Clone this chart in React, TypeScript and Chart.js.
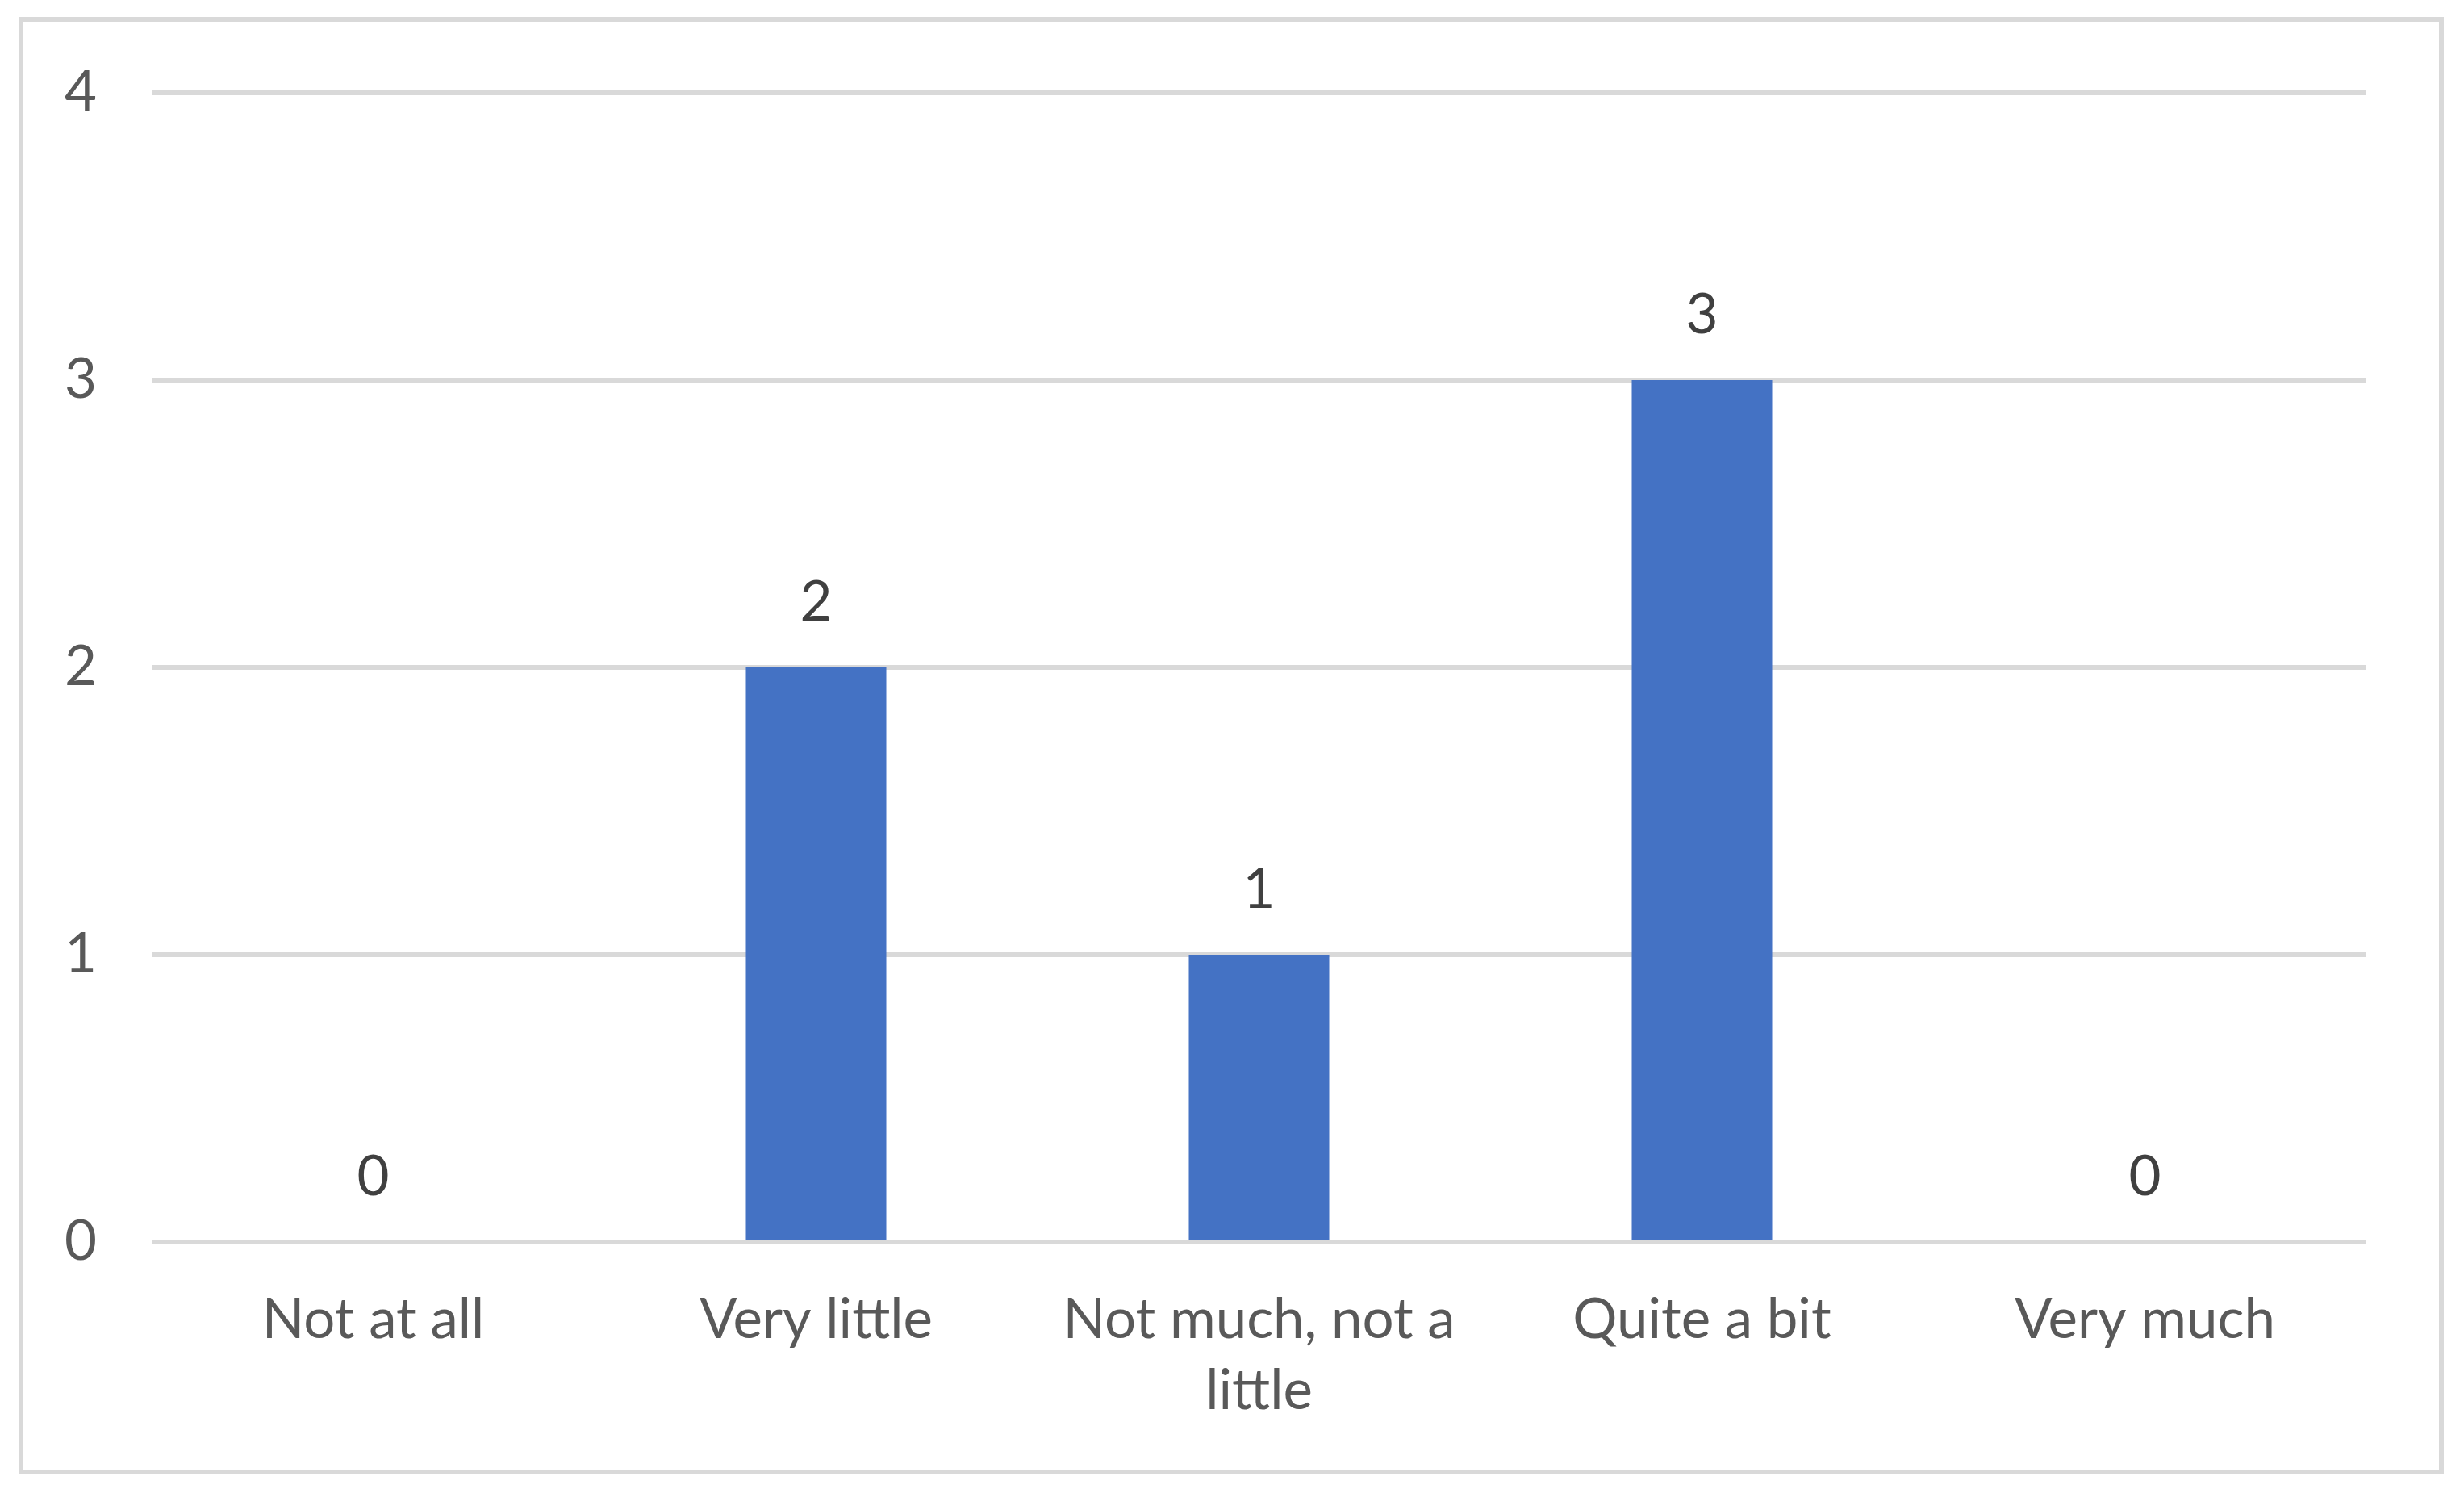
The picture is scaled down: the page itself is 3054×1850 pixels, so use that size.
import React, { useEffect, useRef } from "react";
import { Chart, registerables } from "chart.js";

Chart.register(...registerables);

const categories: (string | string[])[] = [
  "Not at all",
  "Very little",
  ["Not much, not a", "little"],
  "Quite a bit",
  "Very much",
];
const values: number[] = [0, 2, 1, 3, 0];
const yTicks: number[] = [0, 1, 2, 3, 4];

const FONT = "Lato, 'Open Sans', sans-serif";

const dataLabelPlugin = {
  id: "dataLabels",
  afterDatasetsDraw(chart: any) {
    const ctx = chart.ctx;
    const meta = chart.getDatasetMeta(0);
    ctx.save();
    ctx.font = `69px ${FONT}`;
    ctx.fillStyle = "#404040";
    ctx.textAlign = "center";
    ctx.textBaseline = "middle";
    meta.data.forEach((bar: any, i: number) => {
      ctx.fillText(String(values[i]), bar.x, bar.y - 80);
    });
    ctx.restore();
  },
};

export default function App() {
  const ref = useRef<HTMLCanvasElement>(null);
  useEffect(() => {
    if (!ref.current) return;
    const chart = new Chart(ref.current, {
      type: "bar",
      data: {
        labels: categories,
        datasets: [
          {
            data: values,
            backgroundColor: "#4472C4",
            borderWidth: 0,
            barPercentage: 0.317,
            categoryPercentage: 1,
          },
        ],
      },
      options: {
        responsive: false,
        animation: false,
        devicePixelRatio: 1,
        layout: { padding: { top: 115, right: 121, left: 0, bottom: 0 } },
        plugins: {
          legend: { display: false },
          tooltip: { enabled: false },
          title: { display: false },
        },
        scales: {
          x: {
            grid: { display: false, drawTicks: false },
            border: { display: false },
            ticks: {
              color: "#595959",
              font: { family: FONT, size: 69, lineHeight: 1.275 },
              padding: 53,
              maxRotation: 0,
              autoSkip: false,
            },
            afterFit: (scale: any) => {
              scale.height = 311;
            },
          },
          y: {
            min: 0,
            max: 4,
            afterBuildTicks: (scale: any) => {
              scale.ticks = yTicks.map((v) => ({ value: v }));
            },
            grid: { color: "#d9d9d9", lineWidth: 6, drawTicks: false },
            border: { display: false },
            ticks: {
              color: "#595959",
              font: { family: FONT, size: 69 },
              padding: 68,
            },
            afterFit: (scale: any) => {
              scale.width = 188;
            },
          },
        },
      },
      plugins: [dataLabelPlugin],
    });
    return () => chart.destroy();
  }, []);

  return (
    <div
      style={{
        position: "absolute",
        left: 0,
        top: 0,
        width: 3054,
        height: 1850,
        background: "#ffffff",
      }}
    >
      <div
        style={{
          position: "absolute",
          left: 23,
          top: 21,
          width: 3006,
          height: 1806,
          boxSizing: "border-box",
          border: "6px solid #d9d9d9",
        }}
      />
      <canvas
        ref={ref}
        width={3054}
        height={1850}
        style={{ position: "absolute", left: 0, top: 0 }}
      />
    </div>
  );
}
